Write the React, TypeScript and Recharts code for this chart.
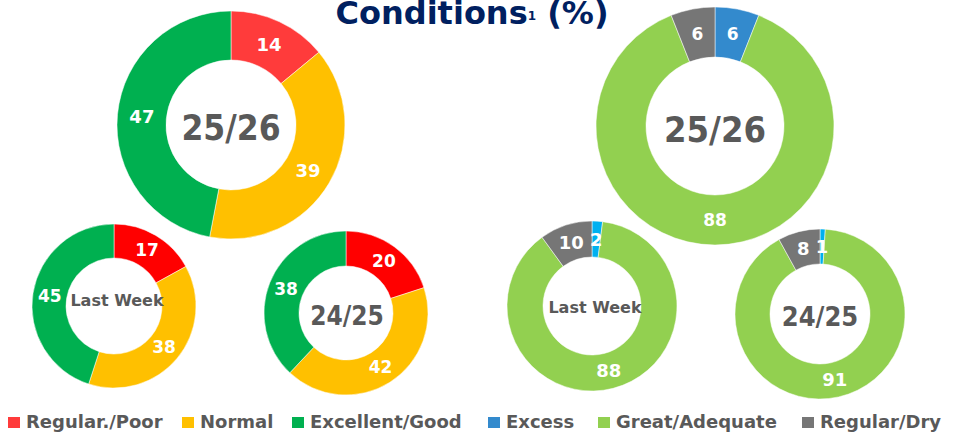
import React from 'react';
import { PieChart, Pie, Cell } from 'recharts';

// crop rating (%)
const ratingNames = ['Regular./Poor', 'Normal', 'Excellent/Good'];
const rating2526 = [14, 39, 47];
const ratingLastWeek = [17, 38, 45];
const rating2425 = [20, 42, 38];

// soil moisture (%)
const moistureNames = ['Excess', 'Great/Adequate', 'Regular/Dry'];
const moisture2526 = [6, 88, 6];
const moistureLastWeek = [2, 88, 10];
const moisture2425 = [1, 91, 8];

const FONT = '"DejaVu Sans", "Open Sans", sans-serif';
const TITLE_FONT = '"DejaVu Sans Condensed", Lato, sans-serif';
const GREY_TEXT = '#595959';

const RATING_BIG = ['#FF3B3B', '#FFC000', '#00B050'];
const RATING_SMALL = ['#FF0000', '#FFC000', '#00B050'];
const MOIST_BIG = ['#338ACD', '#92D050', '#767676'];
const MOIST_SMALL = ['#00B0F0', '#92D050', '#767676'];

const toData = (names: string[], values: number[]) =>
  names.map((name, i) => ({ name, value: values[i] }));

const RAD = Math.PI / 180;

const sliceLabel = (size: number) => (props: any) => {
  const { cx, cy, midAngle, innerRadius, outerRadius, value } = props;
  const r = (innerRadius + outerRadius) / 2;
  const x = cx + r * Math.cos(-midAngle * RAD);
  const y = cy + r * Math.sin(-midAngle * RAD);
  return (
    <text
      x={x}
      y={y}
      fill="#fff"
      textAnchor="middle"
      dominantBaseline="central"
      fontSize={size}
      fontWeight="bold"
      fontFamily={FONT}
    >
      {value}
    </text>
  );
};

const donuts = [
  { key: 'r-big', data: toData(ratingNames, rating2526), colors: RATING_BIG, cx: 231, cy: 125, inner: 65, outer: 114, label: 18, title: '25/26', titleSize: 35, tdx: 0, tdy: 3 },
  { key: 'r-lw', data: toData(ratingNames, ratingLastWeek), colors: RATING_SMALL, cx: 114, cy: 306, inner: 48, outer: 82, label: 17, title: 'Last Week', titleSize: 16, tdx: 3, tdy: -6 },
  { key: 'r-2425', data: toData(ratingNames, rating2425), colors: RATING_SMALL, cx: 346, cy: 313, inner: 47, outer: 82, label: 17, title: '24/25', titleSize: 26, tdx: 1, tdy: 3 },
  { key: 'm-big', data: toData(moistureNames, moisture2526), colors: MOIST_BIG, cx: 715, cy: 126, inner: 69, outer: 119, label: 17, title: '25/26', titleSize: 36, tdx: 0, tdy: 3 },
  { key: 'm-lw', data: toData(moistureNames, moistureLastWeek), colors: MOIST_SMALL, cx: 592, cy: 306, inner: 49, outer: 85, label: 18, title: 'Last Week', titleSize: 16, tdx: 3, tdy: 1 },
  { key: 'm-2425', data: toData(moistureNames, moisture2425), colors: MOIST_SMALL, cx: 820, cy: 314, inner: 50, outer: 85, label: 18, title: '24/25', titleSize: 27, tdx: 0, tdy: 2 },
];

// left edge of each legend marker
const legendLeftX = [8, 182, 292];
const legendRightX = [488, 598, 802];

const LegendRow = ({ names, colors, xs }: { names: string[]; colors: string[]; xs: number[] }) => (
  <>
    {names.map((n, i) => (
      <div
        key={n}
        style={{
          position: 'absolute',
          left: xs[i],
          top: 411,
          height: 22,
          display: 'flex',
          alignItems: 'center',
          gap: 6,
          fontFamily: FONT,
          fontWeight: 'bold',
          fontSize: 18,
          color: GREY_TEXT,
          whiteSpace: 'nowrap',
        }}
      >
        <span style={{ width: 12, height: 11, background: colors[i], display: 'inline-block' }} />
        <span style={{ lineHeight: '22px' }}>{n}</span>
      </div>
    ))}
  </>
);

export default function App() {
  return (
    <div style={{ position: 'absolute', left: 0, top: 0, width: 955, height: 438, background: '#fff', overflow: 'hidden' }}>
      <style>{'body{margin:0}'}</style>
      <PieChart width={955} height={438} margin={{ top: 0, right: 0, bottom: 0, left: 0 }}>
        {donuts.map((d) => (
          <Pie
            key={d.key}
            data={d.data}
            dataKey="value"
            nameKey="name"
            cx={d.cx}
            cy={d.cy}
            innerRadius={d.inner}
            outerRadius={d.outer}
            startAngle={90}
            endAngle={-270}
            stroke="#fff"
            strokeWidth={0.5}
            label={sliceLabel(d.label)}
            labelLine={false}
            isAnimationActive={false}
          >
            {d.data.map((_, i) => (
              <Cell key={`cell-${i}`} fill={d.colors[i]} />
            ))}
          </Pie>
        ))}
      </PieChart>
      <svg width={955} height={438} style={{ position: 'absolute', left: 0, top: 0, pointerEvents: 'none' }}>
        <text x={472} y={24} textAnchor="middle" fontFamily={FONT} fontWeight="bold" fontSize={32} fill="#002060">
          Conditions
          <tspan fontSize={12} dy={-4}>1</tspan>
          <tspan dy={4}> (%)</tspan>
        </text>
        {donuts.map((d) => (
          <text
            key={`t-${d.key}`}
            x={d.cx + d.tdx}
            y={d.cy + d.tdy}
            textAnchor="middle"
            dominantBaseline="central"
            fontFamily={d.title === 'Last Week' ? FONT : TITLE_FONT}
            fontWeight="bold"
            fontSize={d.titleSize}
            fill={GREY_TEXT}
          >
            {d.title}
          </text>
        ))}
      </svg>
      <LegendRow names={ratingNames} colors={RATING_BIG} xs={legendLeftX} />
      <LegendRow names={moistureNames} colors={MOIST_BIG} xs={legendRightX} />
    </div>
  );
}
